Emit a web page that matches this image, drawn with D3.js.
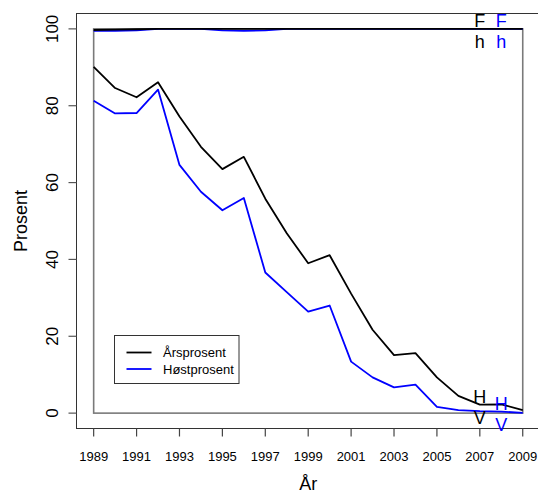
<!DOCTYPE html>
<html>
<head>
<meta charset="utf-8">
<script src="https://cdn.jsdelivr.net/npm/d3@7"></script>
<style>
  html, body { margin: 0; padding: 0; background: #fff; }
  svg { display: block; font-family: "Liberation Sans", Arial, Helvetica, sans-serif; }
</style>
</head>
<body>
<svg id="chart" width="538" height="493"></svg>
<script>
// Years on the horizontal axis
const years = d3.range(1989, 2010);

// Annual percentage (black) and autumn percentage (blue)
const arsprosent  = [90.1, 84.6, 82.2, 86.1, 77.2, 69.3, 63.5, 66.7, 55.8, 46.8, 39.0,
                     41.1, 31.1, 21.7, 15.1, 15.6, 9.3, 4.5, 2.2, 2.3, 0.8];
const hostprosent = [81.3, 78.0, 78.1, 84.2, 64.6, 57.6, 52.8, 56.0, 36.6, 31.5, 26.4,
                     28.0, 13.4, 9.3, 6.7, 7.4, 1.6, 0.8, 0.5, 0.4, 0.05];

// Series running along the top near 100 %
const fLinje = [99.7, 99.8, 99.9, 100, 100, 100, 100, 100, 100, 100, 100,
                100, 100, 100, 100, 100, 100, 100, 100, 100, 100];
const hLinje = [99.5, 99.5, 99.6, 100, 100, 100, 99.6, 99.5, 99.6, 100, 100,
                100, 100, 100, 100, 100, 100, 100, 100, 100, 100];

const yTicks = [0, 20, 40, 60, 80, 100];
const xTicks = d3.range(1989, 2010, 2);

const svg = d3.select("#chart");

const x = d3.scaleLinear().domain([1988.2, 2009.8]).range([76.5, 539.9]);
const y = d3.scaleLinear().domain([-4, 104]).range([428.5, 13.5]);

const line = d3.line().x((d, i) => x(years[i])).y(d => y(d));

// Reference rectangle 1989–2009, 0–100 %
svg.append("rect")
  .attr("x", x(1989)).attr("y", y(100))
  .attr("width", x(2009) - x(1989)).attr("height", y(0) - y(100))
  .attr("fill", "none").attr("stroke", "#7a7a7a").attr("stroke-width", 1.6);

// Data lines
const series = [
  { v: hLinje, c: "#0000ff" },
  { v: fLinje, c: "#000000" },
  { v: arsprosent, c: "#000000" },
  { v: hostprosent, c: "#0000ff" }
];
series.forEach(s => {
  svg.append("path").datum(s.v)
    .attr("d", line).attr("fill", "none")
    .attr("stroke", s.c).attr("stroke-width", 1.8)
    .attr("stroke-linejoin", "round");
});

// Plot frame
svg.append("rect")
  .attr("x", x.range()[0]).attr("y", y.range()[1])
  .attr("width", x.range()[1] - x.range()[0]).attr("height", y.range()[0] - y.range()[1])
  .attr("fill", "none").attr("stroke", "#333").attr("stroke-width", 1);

// Y axis
const yAxis = svg.append("g");
yTicks.forEach(t => {
  yAxis.append("line")
    .attr("x1", x.range()[0] - 8).attr("x2", x.range()[0])
    .attr("y1", y(t)).attr("y2", y(t))
    .attr("stroke", "#555").attr("stroke-width", 1.2);
  yAxis.append("text")
    .attr("transform", `translate(58,${y(t)}) rotate(-90)`)
    .attr("text-anchor", "middle")
    .attr("font-size", 17)
    .text(t);
});

// X axis
const xAxis = svg.append("g");
xTicks.forEach(t => {
  xAxis.append("line")
    .attr("x1", x(t)).attr("x2", x(t))
    .attr("y1", y.range()[0]).attr("y2", y.range()[0] + 8)
    .attr("stroke", "#444").attr("stroke-width", 1.2);
  xAxis.append("text")
    .attr("x", x(t)).attr("y", 461)
    .attr("text-anchor", "middle")
    .attr("font-size", 13)
    .text(t);
});

// Axis titles
svg.append("text")
  .attr("transform", `translate(27,${(y.range()[0] + y.range()[1]) / 2}) rotate(-90)`)
  .attr("text-anchor", "middle").attr("font-size", 18)
  .text("Prosent");
svg.append("text")
  .attr("x", (x.range()[0] + x.range()[1]) / 2).attr("y", 490)
  .attr("text-anchor", "middle").attr("font-size", 18)
  .text("År");

// Point labels on the series
const idx = yr => years.indexOf(yr);
const labels = [
  { t: "F", yr: 2007, v: fLinje,      c: "#000", above: true },
  { t: "F", yr: 2008, v: hLinje,      c: "#0000ff", above: true },
  { t: "h", yr: 2007, v: fLinje,      c: "#000", above: false },
  { t: "h", yr: 2008, v: hLinje,      c: "#0000ff", above: false },
  { t: "H", yr: 2007, v: arsprosent,  c: "#000", above: true },
  { t: "H", yr: 2008, v: hostprosent, c: "#0000ff", above: true },
  { t: "V", yr: 2007, v: arsprosent,  c: "#000", above: false },
  { t: "V", yr: 2008, v: hostprosent, c: "#0000ff", above: false }
];
labels.forEach(l => {
  const py = y(l.v[idx(l.yr)]);
  svg.append("text")
    .attr("x", x(l.yr)).attr("y", l.above ? py - 2 : py + 19)
    .attr("text-anchor", "middle").attr("font-size", 18)
    .attr("fill", l.c)
    .text(l.t);
});

// Legend
const lg = svg.append("g");
lg.append("rect")
  .attr("x", 114.5).attr("y", 335.5).attr("width", 124.5).attr("height", 48)
  .attr("fill", "#fff").attr("stroke", "#333").attr("stroke-width", 1);
[["Årsprosent", "#000"], ["Høstprosent", "#0000ff"]].forEach((d, i) => {
  const ly = 352.5 + i * 16.5;
  lg.append("line")
    .attr("x1", 126.5).attr("x2", 151.5).attr("y1", ly).attr("y2", ly)
    .attr("stroke", d[1]).attr("stroke-width", 1.8);
  lg.append("text")
    .attr("x", 163).attr("y", ly + 4.5)
    .attr("font-size", 13)
    .text(d[0]);
});
</script>
</body>
</html>
